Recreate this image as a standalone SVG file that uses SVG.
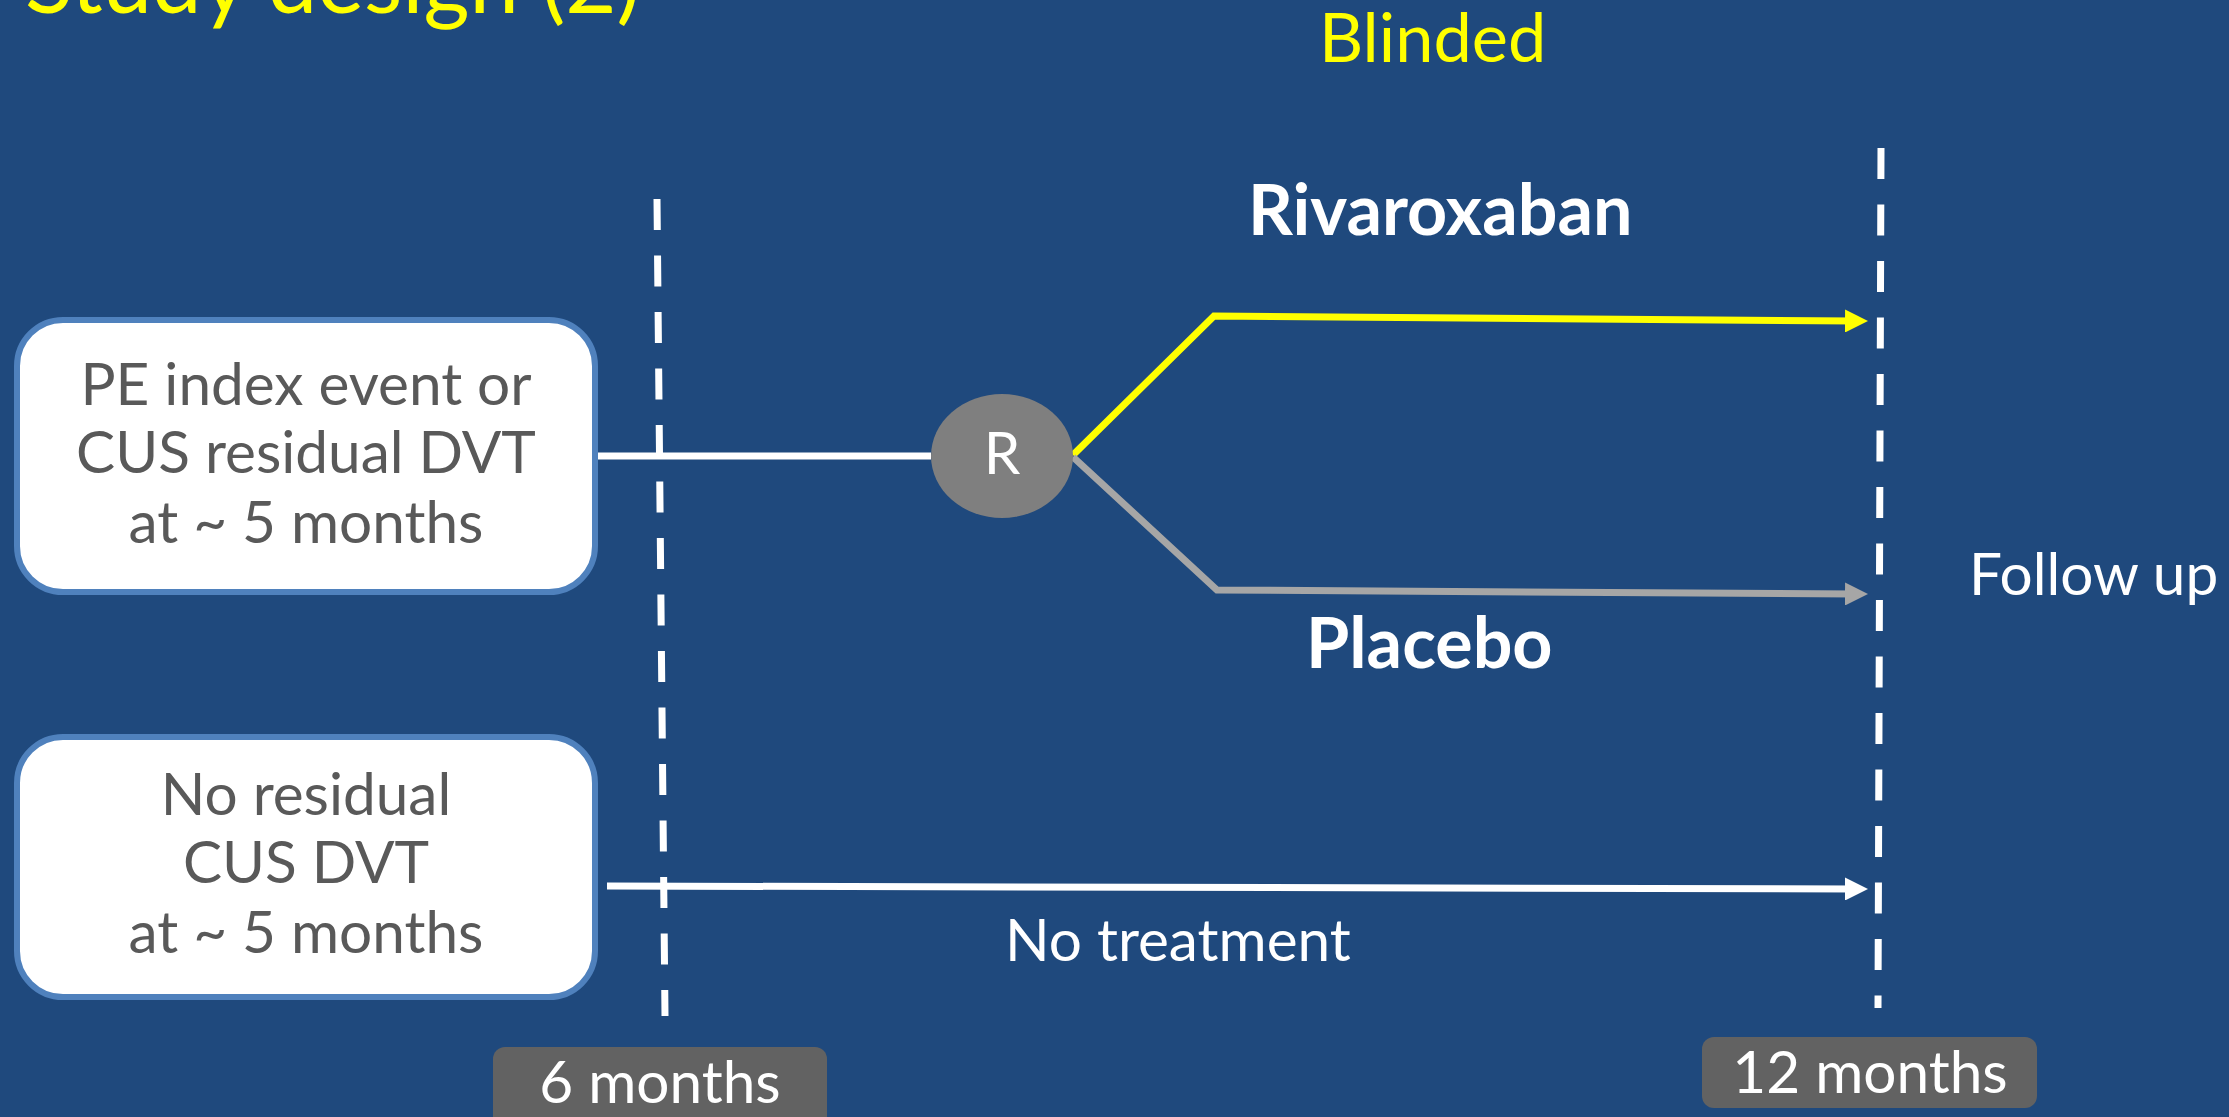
<svg xmlns="http://www.w3.org/2000/svg" width="2229" height="1117" viewBox="0 0 2229 1117">
<style>
.bg{fill:#1f497d}
.box{fill:#ffffff;stroke:#4f81bd;stroke-width:6}
.boxtxt{font-family:Lato,"Open Sans",sans-serif;font-size:58.5px;fill:#595959;text-anchor:middle}
.wt{font-family:Lato,"Open Sans",sans-serif;font-size:58.5px;fill:#ffffff}
.bold{font-weight:bold;font-size:70px}
.yel{font-family:Lato,"Open Sans",sans-serif;fill:#ffff00}
.dash{fill:none;stroke:#ffffff;stroke-width:7;stroke-dasharray:31 25.5}
.tag{fill:#626262}
.conn{fill:none;stroke-width:7;stroke-linejoin:miter}
</style>
<defs>
<marker id="aw" viewBox="0 0 23 23" refX="10" refY="11.5" markerWidth="23" markerHeight="23" markerUnits="userSpaceOnUse" orient="auto"><path d="M0,0 L23,11.5 L0,23 z" fill="#ffffff"/></marker>
<marker id="ay" viewBox="0 0 23 23" refX="10" refY="11.5" markerWidth="23" markerHeight="23" markerUnits="userSpaceOnUse" orient="auto"><path d="M0,0 L23,11.5 L0,23 z" fill="#ffff00"/></marker>
<marker id="ag" viewBox="0 0 23 23" refX="10" refY="11.5" markerWidth="23" markerHeight="23" markerUnits="userSpaceOnUse" orient="auto"><path d="M0,0 L23,11.5 L0,23 z" fill="#a6a6a6"/></marker>
</defs>
<rect class="bg" x="0" y="0" width="2229" height="1117"/>
<text id="title" class="yel" x="25" y="13" font-size="88.5">Study design (2)</text>
<text id="blinded" class="yel" x="1319" y="62" font-size="68.5">Blinded</text>
<g id="timelines">
<path class="dash" d="M657,199 L665,1016"/>
<path class="dash" d="M1881,148 L1878,1008"/>
</g>
<g id="connectors">
<path class="conn" stroke="#ffffff" d="M598,456 L931,456"/>
<path class="conn" stroke="#ffff00" d="M1073,455 L1214,316 L1855,321" marker-end="url(#ay)"/>
<path class="conn" stroke="#a6a6a6" d="M1073,457 L1217,590 L1855,594" marker-end="url(#ag)"/>
<path class="conn" stroke="#ffffff" d="M607,886 L1855,889" marker-end="url(#aw)"/>
</g>
<g id="box1">
<rect class="box" x="17" y="320" width="578" height="272" rx="46"/>
<text class="boxtxt" x="306" y="405">PE index event or</text>
<text class="boxtxt" x="306" y="473">CUS residual DVT</text>
<text class="boxtxt" x="306" y="543">at ~ 5 months</text>
</g>
<g id="box2">
<rect class="box" x="17" y="737" width="578" height="260" rx="46"/>
<text class="boxtxt" x="306" y="815">No residual</text>
<text class="boxtxt" x="306" y="883">CUS DVT</text>
<text class="boxtxt" x="306" y="953">at ~ 5 months</text>
</g>
<g id="randomize">
<ellipse cx="1002" cy="456" rx="71" ry="62" fill="#7f7f7f"/>
<text class="wt" x="1002" y="474" font-size="46" text-anchor="middle">R</text>
</g>
<g id="labels">
<text id="riva" class="wt bold" x="1248" y="235">Rivaroxaban</text>
<text id="placebo" class="wt bold" x="1306" y="668">Placebo</text>
<text id="followup" class="wt" x="1969" y="595">Follow up</text>
<text id="notreat" class="wt" x="1005" y="961" font-size="60">No treatment</text>
</g>
<g id="tag6">
<rect class="tag" x="493" y="1047" width="334" height="90" rx="12"/>
<text class="wt" x="660" y="1103" text-anchor="middle">6 months</text>
</g>
<g id="tag12">
<rect class="tag" x="1702" y="1037" width="335" height="71" rx="12"/>
<text class="wt" x="1870" y="1093" text-anchor="middle">12 months</text>
</g>
</svg>
